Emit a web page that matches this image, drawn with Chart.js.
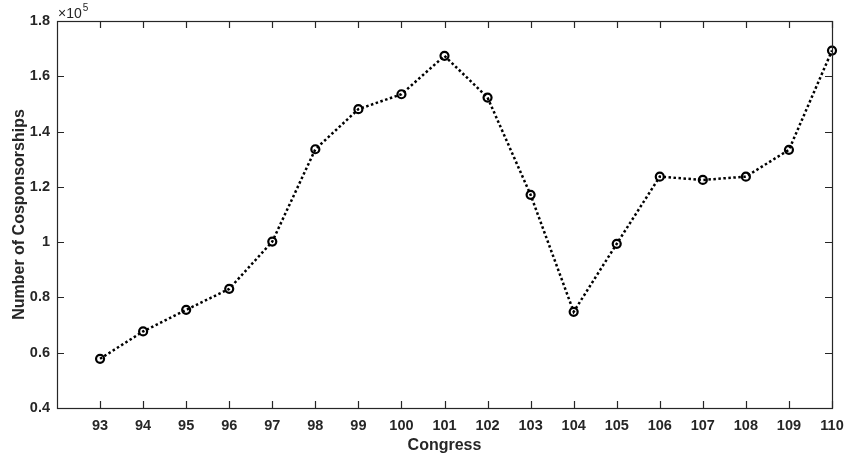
<!DOCTYPE html>
<html>
<head>
<meta charset="utf-8">
<script src="https://cdn.jsdelivr.net/npm/chart.js@4.4.1/dist/chart.umd.min.js"></script>
<style>
  html, body { margin: 0; padding: 0; background: #fff; }
  #wrap { width: 846px; height: 459px; position: relative; }
</style>
</head>
<body>
<div id="wrap"><canvas id="chart"></canvas></div>
<script>
// Congress numbers and total cosponsorships
const congresses = [93, 94, 95, 96, 97, 98, 99, 100, 101, 102, 103, 104, 105, 106, 107, 108, 109, 110];
const cosponsorships = [57800, 67700, 75500, 83100, 100200, 133600, 148100, 153500, 167400, 152300,
                        117100, 74800, 99400, 123700, 122500, 123700, 133400, 169300];
const yTicks = [40000, 60000, 80000, 100000, 120000, 140000, 160000, 180000];

const INK = '#262626';
const FONT = '"Liberation Sans", Arial, sans-serif';

// MATLAB-like box with inward ticks + exponent label
const boxPlugin = {
    id: 'box',
    afterDraw(chart) {
        const { ctx, chartArea: a, scales } = chart;
        const len = 7;
        ctx.save();
        ctx.strokeStyle = INK;
        ctx.lineWidth = 1.2;
        ctx.strokeRect(a.left + 0.5, a.top + 0.5, a.right - a.left, a.bottom - a.top);
        ctx.beginPath();
        congresses.forEach(c => {
            const x = Math.round(scales.x.getPixelForValue(c)) + 0.5;
            ctx.moveTo(x, a.bottom); ctx.lineTo(x, a.bottom - len);
            ctx.moveTo(x, a.top); ctx.lineTo(x, a.top + len);
        });
        yTicks.forEach(v => {
            const y = Math.round(scales.y.getPixelForValue(v)) + 0.5;
            ctx.moveTo(a.left, y); ctx.lineTo(a.left + len, y);
            ctx.moveTo(a.right, y); ctx.lineTo(a.right - len, y);
        });
        ctx.stroke();

        ctx.fillStyle = INK;
        ctx.textBaseline = 'alphabetic';
        ctx.font = '14px ' + FONT;
        ctx.fillText('\u00d710', a.left + 1, a.top - 3);
        const w = ctx.measureText('\u00d710').width;
        ctx.font = '10px ' + FONT;
        ctx.fillText('5', a.left + 2 + w, a.top - 10);
        ctx.restore();
    }
};

new Chart(document.getElementById('chart'), {
    type: 'line',
    data: {
        datasets: [{
            data: congresses.map((c, i) => ({ x: c, y: cosponsorships[i] })),
            borderColor: '#000',
            borderWidth: 2.5,
            borderDash: [2.5, 2.5],
            fill: false,
            tension: 0,
            pointRadius: 4,
            pointBorderWidth: 2.2,
            pointBorderColor: '#000',
            pointBackgroundColor: 'rgba(0,0,0,0)',
            clip: false
        }]
    },
    options: {
        responsive: true,
        maintainAspectRatio: false,
        animation: false,
        layout: { padding: { top: 21, right: 14, left: 0, bottom: 0 } },
        plugins: { legend: { display: false }, tooltip: { enabled: false } },
        scales: {
            x: {
                type: 'linear',
                min: 92,
                max: 110,
                afterFit: s => { s.height = 51; s.paddingLeft = 0; s.paddingRight = 0; },
                grid: { display: false, drawTicks: false },
                border: { display: false },
                ticks: {
                    stepSize: 1,
                    autoSkip: false,
                    maxRotation: 0,
                    padding: 9,
                    color: INK,
                    font: { family: FONT, size: 14.5, weight: 'bold' },
                    callback: v => (v === 92 ? '' : v)
                },
                title: {
                    display: true,
                    text: 'Congress',
                    color: INK,
                    padding: { top: 0, bottom: 4 },
                    font: { family: FONT, size: 16, weight: 'bold' }
                }
            },
            y: {
                min: 40000,
                max: 180000,
                afterFit: s => { s.width = 57; s.paddingTop = 0; s.paddingBottom = 0; },
                grid: { display: false, drawTicks: false },
                border: { display: false },
                ticks: {
                    stepSize: 20000,
                    padding: 7,
                    color: INK,
                    font: { family: FONT, size: 14.5, weight: 'bold' },
                    callback: v => String(+(v / 1e5).toFixed(1))
                },
                title: {
                    display: true,
                    text: 'Number of Cosponsorships',
                    color: INK,
                    padding: { top: 10, bottom: 0 },
                    font: { family: FONT, size: 16, weight: 'bold' }
                }
            }
        }
    },
    plugins: [boxPlugin]
});
</script>
</body>
</html>
